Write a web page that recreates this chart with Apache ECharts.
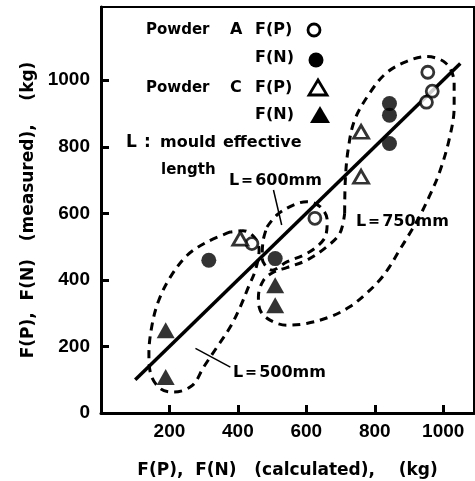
<!DOCTYPE html>
<html>
<head>
	<meta charset="utf-8">
	<script src="https://cdn.jsdelivr.net/npm/echarts@6/dist/echarts.min.js"></script>
	<title>F(P), F(N)</title>
</head>
<body style="margin:0">
	<div id="main" style="width: 475px;height:481px;"></div>

	<script type="text/javascript">
	    // measured vs calculated (kg)
	    var openCircles = [[441, 509], [625, 585], [955, 1024], [968, 967], [951, 934]];      // Powder A F(P)
	    var filledCircles = [[315, 459], [509, 464], [843, 930], [843, 895], [843, 810]];     // Powder A F(N)
	    var openTriangles = [[407, 524], [760, 845], [760, 710]];                             // Powder C F(P)
	    var filledTriangles = [[189, 249], [189, 108], [509, 384], [509, 324]];               // Powder C F(N)

	    // y = x line
	    var fitLine = [[100, 100], [1050, 1050]];

	    // dashed groups by mould effective length
	    var loop500 = [[378, 544], [310, 514], [252, 474], [203, 409], [169, 339], [150, 269], [140, 179], [145, 118],
	        [174, 73], [213, 63], [267, 83], [300, 138], [339, 198], [378, 259], [407, 319], [431, 379], [451, 429],
	        [462, 490], [448, 528], [415, 548], [378, 544]];
	    var loop600 = [[485, 559], [514, 595], [562, 625], [601, 635], [640, 620], [661, 580], [657, 534], [630, 499],
	        [591, 474], [543, 454], [500, 429], [471, 465], [474, 519], [485, 559]];
	    var loop750 = [[712, 600], [714, 700], [722, 790], [741, 880], [785, 961], [833, 1021], [892, 1056], [950, 1071],
	        [1008, 1051], [1032, 991], [1032, 920], [1017, 820], [988, 720], [959, 650], [930, 589], [896, 529],
	        [872, 489], [843, 439], [814, 399], [775, 359], [727, 319], [669, 289], [601, 269], [543, 264], [494, 279],
	        [465, 309], [460, 349], [475, 399], [504, 423], [543, 437], [601, 459], [659, 499], [698, 540], [712, 600]];
	    var lead500 = [[276, 194], [378, 138]];
	    var lead600 = [[504, 670], [528, 565]];

	    var xTicks = [200, 400, 600, 800, 1000];
	    var yTicks = [0, 200, 400, 600, 800, 1000];

	    var numFont = "'Liberation Sans', sans-serif";
	    var txtFont = "'DejaVu Sans', sans-serif";

	    var myChart = echarts.init(document.getElementById('main'));

	    function dashed(data) {
	        return {
	            type: 'line', data: data, smooth: 0.35, symbol: 'none', silent: true,
	            lineStyle: { color: '#000', width: 3, type: [8, 6] }, z: 2
	        };
	    }
	    function thin(data) {
	        return {
	            type: 'line', data: data, symbol: 'none', silent: true,
	            lineStyle: { color: '#000', width: 1.5 }, z: 2
	        };
	    }
	    function txt(x, y, s, size) {
	        return {
	            type: 'text', x: x, y: y, z: 10,
	            style: {
	                text: s, fill: '#000', font: 'bold ' + (size || 15) + 'px ' + txtFont,
	                verticalAlign: 'middle', align: 'left'
	            }
	        };
	    }
	    function plain(v) { return String(v); }

	    var option = {
	        backgroundColor: '#fff',
	        animation: false,
	        grid: {
	            left: 101, right: 1, top: 7, bottom: 68,
	            show: true, borderColor: '#000', borderWidth: 2,
	            outerBoundsMode: 'none'
	        },
	        xAxis: {
	            type: 'value', min: 0, max: 1090, interval: 200,
	            splitLine: { show: false },
	            axisLine: { onZero: false, lineStyle: { color: '#000', width: 3 } },
	            axisTick: { inside: true, length: 8, lineStyle: { width: 3 }, customValues: xTicks },
	            axisLabel: { customValues: xTicks, formatter: plain, margin: 9, color: '#000', fontSize: 19, fontWeight: 'bold', fontFamily: numFont },
	            name: 'F(P),  F(N)   (calculated),    (kg)',
	            nameLocation: 'middle', nameGap: 49, nameMoveOverlap: false,
	            nameTextStyle: { color: '#000', fontSize: 17, fontWeight: 'bold', fontFamily: txtFont }
	        },
	        yAxis: {
	            type: 'value', min: 0, max: 1220, interval: 200,
	            splitLine: { show: false },
	            axisLine: { onZero: false, lineStyle: { color: '#000', width: 3 } },
	            axisTick: { inside: true, length: 8, lineStyle: { width: 3 }, customValues: yTicks },
	            axisLabel: { customValues: yTicks, formatter: plain, margin: 11, color: '#000', fontSize: 19, fontWeight: 'bold', fontFamily: numFont },
	            name: 'F(P),  F(N)   (measured),    (kg)',
	            nameLocation: 'middle', nameGap: 64, nameMoveOverlap: false,
	            nameTextStyle: { color: '#000', fontSize: 17, fontWeight: 'bold', fontFamily: txtFont }
	        },
	        series: [
	            {
	                type: 'line', data: fitLine, symbol: 'none', silent: true,
	                lineStyle: { color: '#000', width: 3.5 }, z: 3
	            },
	            dashed(loop500),
	            dashed(loop600),
	            dashed(loop750),
	            thin(lead500),
	            thin(lead600),
	            {
	                name: 'Powder A F(P)', type: 'scatter', data: openCircles, symbol: 'circle', symbolSize: 12,
	                itemStyle: { color: '#fff', borderColor: '#000', borderWidth: 2.8 }, z: 5
	            },
	            {
	                name: 'Powder A F(N)', type: 'scatter', data: filledCircles, symbol: 'circle', symbolSize: 15,
	                itemStyle: { color: '#000' }, z: 5
	            },
	            {
	                name: 'Powder C F(P)', type: 'scatter', data: openTriangles, symbol: 'triangle', symbolSize: [15, 13],
	                itemStyle: { color: '#fff', borderColor: '#000', borderWidth: 2.8 }, z: 5
	            },
	            {
	                name: 'Powder C F(N)', type: 'scatter', data: filledTriangles, symbol: 'triangle', symbolSize: [18, 16],
	                itemStyle: { color: '#000' }, z: 5
	            }
	        ],
	        graphic: [
	            txt(146, 30, 'Powder', 15), txt(230, 30, 'A', 16), txt(255, 30, 'F(P)', 16),
	            txt(255, 58, 'F(N)', 16),
	            txt(146, 88, 'Powder', 15), txt(230, 88, 'C', 16), txt(255, 88, 'F(P)', 16),
	            txt(255, 115, 'F(N)', 16),
	            txt(126, 143, 'L', 17), txt(144, 143, ':', 17), txt(160, 143, 'mould', 16), txt(223, 143, 'effective', 16),
	            txt(161, 170, 'length', 15),
	            txt(229, 181, 'L＝600mm', 16),
	            txt(356, 222, 'L＝750mm', 16),
	            txt(233, 373, 'L＝500mm', 16),
	            { type: 'circle', shape: { cx: 314, cy: 30, r: 6 }, style: { fill: '#fff', stroke: '#000', lineWidth: 2.8 }, z: 10 },
	            { type: 'circle', shape: { cx: 316, cy: 60, r: 7.5 }, style: { fill: '#000' }, z: 10 },
	            { type: 'polygon', shape: { points: [[318, 80], [327, 95], [309, 95]] }, style: { fill: '#fff', stroke: '#000', lineWidth: 2.8 }, z: 10 },
	            { type: 'polygon', shape: { points: [[320, 106], [330, 123], [310, 123]] }, style: { fill: '#000' }, z: 10 }
	        ]
	    };

	    myChart.setOption(option);
	</script>
</body>
</html>
